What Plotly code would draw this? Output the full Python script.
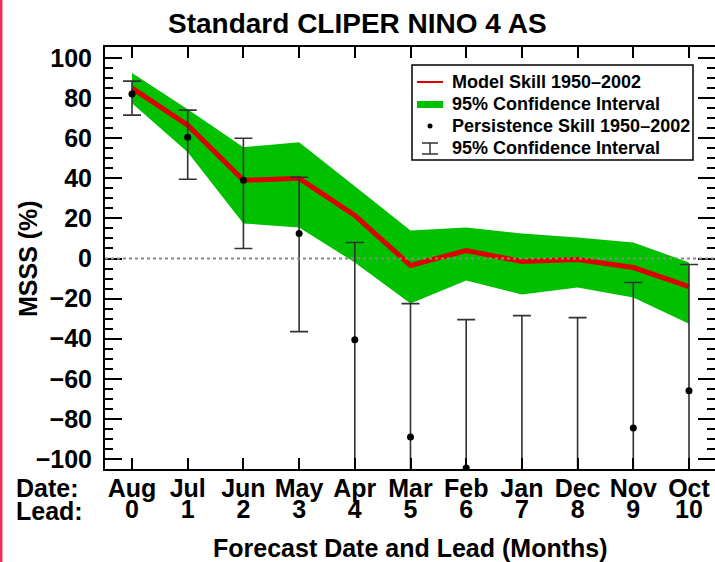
import plotly.graph_objects as go

# ---- data ----
months = ["Aug", "Jul", "Jun", "May", "Apr", "Mar", "Feb", "Jan", "Dec", "Nov", "Oct"]
leads = [0, 1, 2, 3, 4, 5, 6, 7, 8, 9, 10]
model_skill = [85, 66.5, 39, 40, 21.5, -3.5, 4, -1.5, -0.5, -4.5, -14]
model_upper = [92.5, 74.5, 55.5, 58, 36, 14, 15.5, 12.5, 10.5, 8, -2]
model_lower = [77.5, 53, 17.5, 15.5, -2, -22.5, -11, -18, -14.5, -19.5, -32.5]
persist_skill = [82, 60.5, 39, 12.5, -40.5, -89, -104.5, -130, -130, -84.5, -66]
persist_upper = [88.5, 74, 60, 40.5, 8, -22.5, -30.5, -28.5, -29.5, -12, -3]
persist_lower = [71.5, 39.5, 5, -36.5, -200, -200, -200, -200, -200, -200, -200]

W, H = 715, 562
L, R, T, B = 105, 715, 47, 469
FONT = "Liberation Sans, Arial, Helvetica, sans-serif"


def px(x):
    return (x - L) / (R - L)


def py(y):
    return (B - y) / (B - T)


fig = go.Figure()

# confidence band (polygon)
fig.add_trace(go.Scatter(
    x=leads + leads[::-1], y=model_upper + model_lower[::-1],
    fill="toself", fillcolor="#00c000", line=dict(width=0),
    mode="lines", hoverinfo="skip", showlegend=False))

# model skill line
fig.add_trace(go.Scatter(
    x=leads, y=model_skill, mode="lines",
    line=dict(color="#dd0000", width=5), showlegend=False))

# persistence skill with error bars (on overlay axis -> drawn on top)
fig.add_trace(go.Scatter(
    x=leads, y=persist_skill, mode="markers", xaxis="x2",
    marker=dict(color="black", size=7),
    error_y=dict(type="data", symmetric=False,
                 array=[u - v for u, v in zip(persist_upper, persist_skill)],
                 arrayminus=[v - l for v, l in zip(persist_skill, persist_lower)],
                 color="#333333", thickness=1.6, width=9),
    showlegend=False))

shapes = []
# dotted zero line
shapes.append(dict(type="line", xref="paper", yref="y", x0=0, x1=1, y0=0, y1=0,
                   line=dict(color="#888888", width=2, dash="dot"), layer="above"))
# left red border line
shapes.append(dict(type="line", xref="paper", yref="paper",
                   x0=px(1.2), x1=px(1.2), y0=py(0), y1=py(H),
                   line=dict(color="rgb(240,50,90)", width=2.5)))
# legend box
shapes.append(dict(type="rect", xref="paper", yref="paper",
                   x0=px(412), x1=px(693), y0=py(65), y1=py(160),
                   line=dict(color="black", width=1.5), fillcolor="white", layer="above"))
# legend symbols
shapes.append(dict(type="line", xref="paper", yref="paper",
                   x0=px(417), x1=px(443), y0=py(82), y1=py(82),
                   line=dict(color="#dd0000", width=2), layer="above"))
shapes.append(dict(type="rect", xref="paper", yref="paper",
                   x0=px(417), x1=px(443), y0=py(101), y1=py(108),
                   line=dict(width=0), fillcolor="#00c000", layer="above"))
shapes.append(dict(type="circle", xref="paper", yref="paper",
                   x0=px(427.5), x1=px(432.5), y0=py(123.5), y1=py(128.5),
                   line=dict(width=0), fillcolor="black", layer="above"))
for (x0, y0, x1, y1) in [(422, 143, 438, 143), (422, 154, 438, 154), (430, 143, 430, 154)]:
    shapes.append(dict(type="line", xref="paper", yref="paper",
                       x0=px(x0), x1=px(x1), y0=py(y0), y1=py(y1),
                       line=dict(color="#333333", width=1.5), layer="above"))

legend_texts = ["Model Skill 1950\u20132002", "95% Confidence Interval",
                "Persistence Skill 1950\u20132002", "95% Confidence Interval"]
annotations = []
for t, yc in zip(legend_texts, [82, 104, 126, 148]):
    annotations.append(dict(text=t, xref="paper", yref="paper", x=px(450), y=py(yc),
                            xanchor="left", yanchor="middle", showarrow=False,
                            font=dict(family=FONT, size=18, color="black", weight="bold")))

annotations += [
    dict(text="Date:", xref="paper", yref="paper", x=px(14), y=py(488),
         xanchor="left", yanchor="middle", showarrow=False,
         font=dict(family=FONT, size=25, color="black", weight="bold")),
    dict(text="Lead:", xref="paper", yref="paper", x=px(14), y=py(511),
         xanchor="left", yanchor="middle", showarrow=False,
         font=dict(family=FONT, size=25, color="black", weight="bold")),
    dict(text="Forecast Date and Lead (Months)", xref="paper", yref="paper",
         x=px(410), y=py(548), xanchor="center", yanchor="middle", showarrow=False,
         font=dict(family=FONT, size=25, color="black", weight="bold")),
    dict(text="MSSS (%)", xref="paper", yref="paper", x=px(28), y=py(258),
         xanchor="center", yanchor="middle", showarrow=False, textangle=-90,
         font=dict(family=FONT, size=25, color="black", weight="bold")),
    dict(text="Standard CLIPER NINO 4 AS", xref="paper", yref="paper",
         x=px(357), y=py(23), xanchor="center", yanchor="middle", showarrow=False,
         font=dict(family=FONT, size=28, color="black", weight="bold")),
]

xrange = [-0.485, 10.467]
tickfont = dict(family=FONT, size=25, color="black", weight="bold")

fig.update_layout(
    width=W, height=H,
    margin=dict(l=L, r=W - R, t=T, b=H - B, pad=0, autoexpand=False),
    paper_bgcolor="white", plot_bgcolor="white",
    showlegend=False,
    shapes=shapes, annotations=annotations,
    xaxis=dict(range=xrange, tickmode="array", tickvals=leads, ticktext=months,
               ticks="inside", ticklen=11, tickwidth=2, tickcolor="black",
               showline=True, linewidth=2, linecolor="black", mirror="ticks",
               showgrid=False, zeroline=False, tickfont=tickfont,
               ticklabelstandoff=-4, automargin=False),
    xaxis2=dict(range=xrange, overlaying="x", matches="x", side="bottom", anchor="y",
                tickmode="array", tickvals=leads, ticktext=[str(v) for v in leads],
                ticks="", showline=False, showgrid=False, zeroline=False,
                tickfont=tickfont, ticklabelstandoff=23, automargin=False),
    yaxis=dict(range=[-105, 105.5], tickmode="linear", tick0=0, dtick=20,
               ticks="inside", ticklen=17, tickwidth=2, tickcolor="black",
               minor=dict(ticks="inside", ticklen=8, tickwidth=2, dtick=5, tickcolor="black"),
               showline=True, linewidth=2, linecolor="black", mirror="ticks",
               showgrid=False, zeroline=False, tickfont=tickfont,
               ticklabelstandoff=6, automargin=False),
)

fig.write_html("out.html", config={"displayModeBar": False},
               post_script="document.body.style.margin='0';document.body.style.padding='0';")
